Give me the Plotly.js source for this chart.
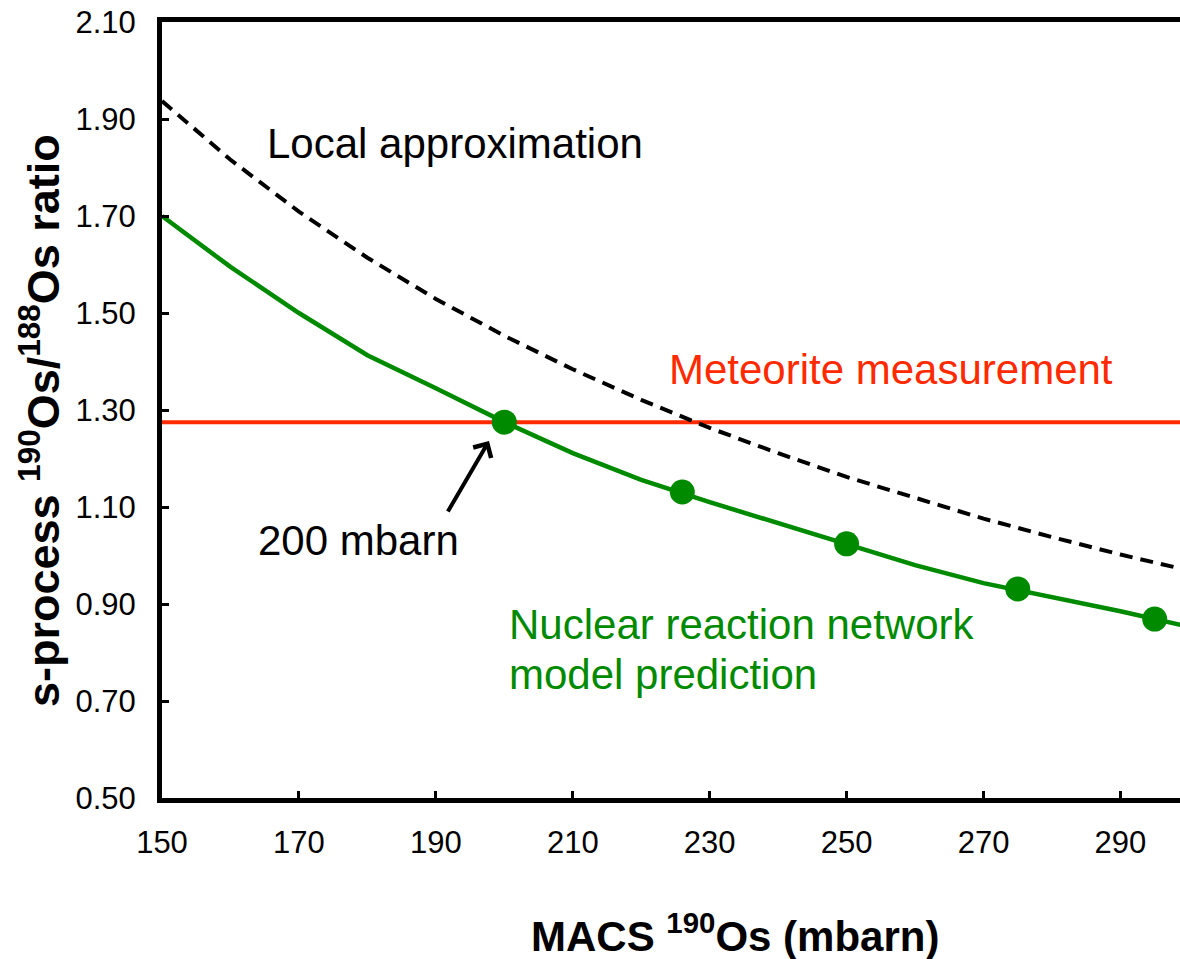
<!DOCTYPE html>
<html>
<head>
<meta charset="utf-8">
<script src="https://cdn.plot.ly/plotly-3.0.1.min.js"></script>
<style>
html,body{margin:0;padding:0;background:#fff;overflow:hidden;}
#chart{width:1180px;height:959px;}
</style>
</head>
<body>
<div id="chart"></div>
<script>
// Nuclear reaction network model prediction (line)
const modelX = [150, 160, 170, 180, 190, 200, 210, 220, 230, 240, 250, 260, 270, 280, 290, 300];
const modelY = [1.700, 1.595, 1.500, 1.413, 1.345, 1.275, 1.211, 1.156, 1.110, 1.067, 1.024, 0.980, 0.943, 0.915, 0.885, 0.853];
// Highlighted model points (markers)
const markerX = [200, 226, 250, 275, 295];
const markerY = [1.275, 1.131, 1.024, 0.931, 0.869];
// Local approximation (dashed)
const localX = [150, 160, 170, 180, 190, 200, 210, 220, 230, 240, 250, 260, 270, 280, 290, 300];
const localY = [1.937, 1.816, 1.709, 1.614, 1.529, 1.453, 1.384, 1.321, 1.263, 1.211, 1.162, 1.118, 1.076, 1.038, 1.002, 0.969];
// Meteorite measurement (horizontal)
const meteoriteX = [150, 300];
const meteoriteY = [1.275, 1.275];
// Axis ticks
const xTicks = [150, 170, 190, 210, 230, 250, 270, 290];
const yTicks = [0.5, 0.7, 0.9, 1.1, 1.3, 1.5, 1.7, 1.9, 2.1];
const yTickLabels = ["0.50", "0.70", "0.90", "1.10", "1.30", "1.50", "1.70", "1.90", "2.10"];

const FONT = "Liberation Sans, Arial, Helvetica, sans-serif";
const RED = "#FF2A00";
const GREEN = "#008A00";

const traces = [
  {x: meteoriteX, y: meteoriteY, mode: "lines", line: {color: RED, width: 4}, hoverinfo: "skip"},
  {x: localX, y: localY, mode: "lines", line: {color: "#000", width: 4, dash: "13px,8px"}, hoverinfo: "skip"},
  {x: modelX, y: modelY, mode: "lines", line: {color: GREEN, width: 4.5}, hoverinfo: "skip"},
  {x: markerX, y: markerY, mode: "markers", marker: {color: GREEN, size: 25}, hoverinfo: "skip"}
];

const PL = 162, PR = 1180, PT = 22, PB = 798;
function px(xpix){ return (xpix - PL) / (PR - PL); }
function py(ypix){ return (PB - ypix) / (PB - PT); }

const layout = {
  width: 1180, height: 959,
  margin: {l: PL, r: 1180 - PR, t: PT, b: 959 - PB, pad: 0},
  paper_bgcolor: "#fff", plot_bgcolor: "#fff",
  showlegend: false,
  font: {family: FONT, color: "#000"},
  xaxis: {
    range: [150, 298.7], tickvals: xTicks, ticktext: xTicks.map(String),
    showgrid: false, zeroline: false, showline: true, linecolor: "#000", linewidth: 5,
    mirror: true, ticks: "inside", ticklen: 7, tickwidth: 3, tickcolor: "#000",
    tickfont: {family: FONT, size: 31, color: "#000"}, ticklabelstandoff: 13
  },
  yaxis: {
    range: [0.5, 2.1], tickvals: yTicks, ticktext: yTickLabels,
    showgrid: false, zeroline: false, showline: true, linecolor: "#000", linewidth: 5,
    ticks: "inside", ticklen: 7, tickwidth: 3, tickcolor: "#000",
    tickfont: {family: FONT, size: 31, color: "#000"}, ticklabelstandoff: 15
  },
  annotations: [
    {xref: "paper", yref: "paper", x: px(265), y: py(143), xanchor: "left", yanchor: "middle",
     text: "Local approximation", showarrow: false, font: {family: FONT, size: 42, color: "#000"}},
    {xref: "paper", yref: "paper", x: px(667), y: py(370), xanchor: "left", yanchor: "middle",
     text: "Meteorite measurement", showarrow: false, font: {family: FONT, size: 42, color: RED}},
    {xref: "paper", yref: "paper", x: px(256), y: py(540), xanchor: "left", yanchor: "middle",
     text: "200 mbarn", showarrow: false, font: {family: FONT, size: 42, color: "#000"}},
    {xref: "paper", yref: "paper", x: px(507), y: py(624), xanchor: "left", yanchor: "middle",
     text: "Nuclear reaction network", showarrow: false, font: {family: FONT, size: 42, color: GREEN}},
    {xref: "paper", yref: "paper", x: px(507), y: py(674), xanchor: "left", yanchor: "middle",
     text: "model prediction", showarrow: false, font: {family: FONT, size: 42, color: GREEN}},
    {xref: "paper", yref: "paper", x: px(489), y: py(441), axref: "paper", ayref: "paper",
     ax: px(447), ay: py(513), text: "", showarrow: true, arrowhead: 4, arrowsize: 1,
     arrowwidth: 4, arrowcolor: "#000", standoff: 0},
    {xref: "paper", yref: "paper", x: px(735), y: py(933), xanchor: "center", yanchor: "middle",
     text: "<b>MACS <sup>190</sup>Os (mbarn)</b>", showarrow: false, font: {family: FONT, size: 42, color: "#000"}},
    {xref: "paper", yref: "paper", x: px(40), y: py(421), xanchor: "center", yanchor: "middle", textangle: -90,
     text: "<b>s-process <sup>190</sup>Os/<sup>188</sup>Os ratio</b>", showarrow: false, font: {family: FONT, size: 45, color: "#000"}}
  ]
};

Plotly.newPlot("chart", traces, layout, {displayModeBar: false, staticPlot: true});
</script>
</body>
</html>
